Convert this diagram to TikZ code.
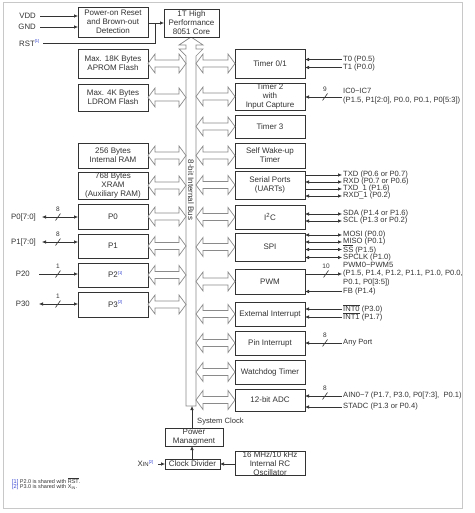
\documentclass[tikz,border=0pt]{standalone}
\usepackage{fontspec}
\setmainfont{Liberation Sans}
\usetikzlibrary{arrows.meta}
\definecolor{ink}{HTML}{333333}
\definecolor{fatc}{HTML}{8A8A8A}
\definecolor{framec}{HTML}{C8C8C8}
\definecolor{note}{HTML}{3040D0}
\newcommand\ovl[1]{$\overline{\mbox{#1}}$}
\newcommand\fnm[1]{\textcolor{note}{\fontsize{4}{4}\selectfont[#1]}}
\newcommand\bx[6]{\node[box, minimum width={(#4-#2)*1pt}, minimum height={(#5-#3)*1pt}] (#1) at ({(#2+#4)/2},{(#3+#5)/2}) {#6};}
\newcommand\fath[3]{\draw[fat] (#1,#3) -- (#1+7,#3-9.5) -- (#1+7,#3-3.5) -- (#2-7,#3-3.5) -- (#2-7,#3-9.5) -- (#2,#3) -- (#2-7,#3+9.5) -- (#2-7,#3+3.5) -- (#1+7,#3+3.5) -- (#1+7,#3+9.5) -- cycle;}
\newcommand\tick[4]{\draw[wire] (#2-2.5,#3+3.5) -- (#2+2.5,#3-3.5); \node[num] (#1) at (#2,#3-7.5) {#4};}
\begin{document}
\begin{tikzpicture}[x=1pt,y=-1pt, font=\fontsize{8}{9}\selectfont, text=ink,
 box/.style={draw=ink, line width=0.9pt, inner sep=0pt, outer sep=0pt, align=center, fill=white},
 sig/.style={inner sep=1pt, anchor=west, font=\fontsize{7.6}{8}\selectfont},
 lsig/.style={inner sep=1pt, anchor=east, font=\fontsize{7.8}{8}\selectfont},
 wire/.style={draw=ink, line width=0.6pt},
 inarr/.style={wire, -{Latex[length=4pt,width=3.5pt]}},
 biarr/.style={wire, {Latex[length=4pt,width=3.5pt]}-{Latex[length=4pt,width=3.5pt]}},
 fat/.style={draw=fatc, line width=0.7pt, fill=white, line join=miter},
 num/.style={font=\fontsize{6.5}{7}\selectfont, inner sep=0pt}]
\useasboundingbox (0,0) rectangle (474,513);
\draw[framec, line width=1pt] (3,3) rectangle (462,508);

% bus with arrow to core
\draw[fat] (191,37) -- (203,45) -- (196,45) -- (196,49) -- (203,49) -- (196,56) -- (196,406) -- (186,406) -- (186,56) -- (179,49) -- (186,49) -- (186,45) -- (179,45) -- cycle;
\node[rotate=-90, inner sep=0pt] (buslbl) at (191,190) {8-bit Internal Bus};
\coordinate (busbot) at (192,406);

% left boxes
\bx{por}{78}{7}{148}{37}{Power-on Reset\\and Brown-out\\Detection}
\bx{core}{164}{9}{219}{37}{1T High\\Performance\\8051 Core}
\bx{apr}{78}{49}{148}{78}{Max. 18K Bytes\\APROM Flash}
\bx{ldr}{78}{84}{148}{111}{Max. 4K Bytes\\LDROM Flash}
\bx{ram}{78}{143}{148}{168}{256 Bytes\\Internal RAM}
\bx{xram}{78}{172}{148}{199}{768 Bytes\\XRAM\\(Auxiliary RAM)}
\bx{p0}{78}{204}{148}{229}{P0}
\bx{p1}{78}{234}{148}{258}{P1}
\bx{p2}{78}{263}{148}{287}{P2\rlap{\raisebox{3pt}{\fnm{1}}}}
\bx{p3}{78}{292}{148}{317}{P3\rlap{\raisebox{4pt}{\fnm{2}}}}

% right boxes
\bx{t01}{235}{49}{305}{78}{Timer 0/1}
\bx{t2}{235}{83}{305}{110}{Timer 2\\with\\Input Capture}
\bx{t3}{235}{115}{305}{138}{Timer 3}
\bx{swt}{235}{143}{305}{168}{Self Wake-up\\Timer}
\bx{uart}{235}{171}{305}{199}{Serial Ports\\(UARTs)}
\bx{i2c}{235}{205}{305}{229}{I\textsuperscript{2}C}
\bx{spi}{235}{233}{305}{261}{SPI}
\bx{pwm}{235}{269}{305}{294}{PWM}
\bx{exi}{235}{302}{305}{326}{External Interrupt}
\bx{pin}{235}{331}{305}{355}{Pin Interrupt}
\bx{wdt}{235}{360}{305}{384}{Watchdog Timer}
\bx{adc}{235}{389}{305}{411}{12-bit ADC}
\bx{osc}{235}{452}{305}{475}{16 MHz/10 kHz\\Internal RC\\Oscillator}

% bottom boxes
\bx{pm}{165}{428}{223}{446}{Power\\Managment}
\bx{cd}{165}{459}{220}{469}{Clock Divider}

% fat arrows left
\fath{148}{186}{63.5}
\fath{148}{186}{97.5}
\fath{148}{186}{155.5}
\fath{148}{186}{185.5}
\fath{148}{186}{216.5}
\fath{148}{186}{246}
\fath{148}{186}{275}
\fath{148}{186}{304.5}
% fat arrows right
\fath{196}{235}{63.5}
\fath{196}{235}{96.5}
\fath{196}{235}{126.5}
\fath{196}{235}{155.5}
\fath{196}{235}{185}
\fath{196}{235}{217}
\fath{196}{235}{247}
\fath{196}{235}{281.5}
\fath{196}{235}{314}
\fath{196}{235}{343}
\fath{196}{235}{372}
\fath{196}{235}{400}

% top-left signals
\node[lsig] (vdd) at (37,16) {VDD};
\node[lsig] (gnd) at (37,27) {GND};
\node[lsig] (rst) at (36,43) {RST\rlap{\raisebox{4pt}{\fnm{1}}}};
\draw[inarr] ([xshift=3pt]vdd.east) -- (vdd.east -| por.west);
\draw[inarr] ([xshift=3pt]gnd.east) -- (gnd.east -| por.west);
\coordinate (rj) at (155,23);
\draw[wire] ([xshift=7pt]rst.east) -| (rj);
\draw[inarr] (por.east |- rj) -- (rj -| core.west);

% left port signals
\node[lsig] (p0s) at (37,217) {P0[7:0]};
\draw[biarr] ([xshift=5pt]p0s.east) -- (p0s.east -| p0.west);
\tick{n8a}{58}{217}{8}
\node[lsig] (p1s) at (37,242) {P1[7:0]};
\draw[biarr] ([xshift=5pt]p1s.east) -- (p1s.east -| p1.west);
\tick{n8b}{58}{242}{8}
\node[lsig] (p20) at (31,274) {P20};
\draw[inarr] ([xshift=8pt]p20.east) -- (p20.east -| p2.west);
\tick{n1a}{58}{274}{1}
\node[lsig] (p30) at (31,304) {P30};
\draw[biarr] ([xshift=8pt]p30.east) -- (p30.east -| p3.west);
\tick{n1b}{58}{304}{1}

% right signals
\node[sig] (t0) at (342,59.5) {T0 (P0.5)};
\node[sig] (t1) at (342,67.5) {T1 (P0.0)};
\draw[inarr] (t0.west) -- (t0.west -| t01.east);
\draw[inarr] (t1.west) -- (t1.west -| t01.east);

\node[sig] (ic) at (342,91) {IC0\textasciitilde IC7};
\node[sig] (icp) at (342,101) {(P1.5, P1[2:0], P0.0, P0.1, P0[5:3])};
\coordinate (icj) at (342,97);
\draw[inarr] (icj) -- (icj -| t2.east);
\tick{n9}{325}{97}{9}

\node[sig] (txd) at (342,175) {TXD (P0.6 or P0.7)};
\node[sig] (rxd) at (342,182) {RXD (P0.7 or P0.6)};
\node[sig] (txd1) at (342,189) {TXD\_1 (P1.6)};
\node[sig] (rxd1) at (342,196) {RXD\_1 (P0.2)};
\draw[inarr] (txd.west -| uart.east) -- (txd.west);
\draw[biarr] (rxd.west -| uart.east) -- (rxd.west);
\draw[inarr] (txd1.west -| uart.east) -- (txd1.west);
\draw[biarr] (rxd1.west -| uart.east) -- (rxd1.west);

\node[sig] (sda) at (342,214) {SDA (P1.4 or P1.6)};
\node[sig] (scl) at (342,221) {SCL (P1.3 or P0.2)};
\draw[biarr] (sda.west -| i2c.east) -- (sda.west);
\draw[biarr] (scl.west -| i2c.east) -- (scl.west);

\node[sig] (mosi) at (342,235) {MOSI (P0.0)};
\node[sig] (miso) at (342,242) {MISO (P0.1)};
\node[sig] (ss) at (342,249.5) {\ovl{SS} (P1.5)};
\node[sig] (spck) at (342,257.5) {SPCLK (P1.0)};
\draw[biarr] (mosi.west -| spi.east) -- (mosi.west);
\draw[biarr] (miso.west -| spi.east) -- (miso.west);
\draw[biarr] (ss.west -| spi.east) -- (ss.west);
\draw[biarr] (spck.west -| spi.east) -- (spck.west);

\node[sig] (pwmh) at (342,264.5) {PWM0\textasciitilde PWM5};
\node[sig] (pwm1) at (342,274) {(P1.5, P1.4, P1.2, P1.1, P1.0, P0.0,};
\node[sig] (pwm2) at (342,283) {P0.1, P0[3:5])};
\node[sig] (fb) at (342,291.5) {FB (P1.4)};
\draw[inarr] (pwm1.west -| pwm.east) -- (pwm1.west);
\tick{n10}{326}{274}{10}
\draw[inarr] (fb.west) -- (fb.west -| pwm.east);

\node[sig] (int0) at (342,309) {\ovl{INT0} (P3.0)};
\node[sig] (int1) at (342,317) {\ovl{INT1} (P1.7)};
\draw[inarr] (int0.west) -- (int0.west -| exi.east);
\draw[inarr] (int1.west) -- (int1.west -| exi.east);

\node[sig] (anyp) at (342,343) {Any Port};
\draw[inarr] (anyp.west) -- (anyp.west -| pin.east);
\tick{n8c}{325}{343}{8}

\node[sig] (ain) at (342,396) {AIN0\textasciitilde 7 (P1.7, P3.0, P0[7:3],\ \ P0.1)};
\node[sig] (stadc) at (342,407) {STADC (P1.3 or P0.4)};
\draw[inarr] (ain.west) -- (ain.west -| adc.east);
\draw[inarr] (stadc.west) -- (stadc.west -| adc.east);
\tick{n8d}{325}{396}{8}

% clock tree
\node[sig, anchor=west, inner sep=0pt] (sysclk) at (197,422) {System Clock};
\draw[inarr] (busbot |- pm.north) -- (busbot);
\draw[inarr] (busbot |- cd.north) -- (busbot |- pm.south);
\node[lsig] (xin) at (150,464) {X{\fontsize{6}{6}\selectfont IN}\rlap{\raisebox{3pt}{\fnm{2}}}};
\draw[inarr] ([xshift=8pt]xin.east) -- (xin.east -| cd.west);
\draw[inarr] (osc.west |- cd.east) -- (cd.east);

% footnotes
\node[anchor=west, inner sep=0pt, font=\fontsize{5.5}{6}\selectfont] (fn1) at (12,481) {\textcolor{note}{[1]} P2.0 is shared with \ovl{RST}.};
\node[anchor=west, inner sep=0pt, font=\fontsize{5.5}{6}\selectfont] (fn2) at (12,487.5) {\textcolor{note}{[2]} P3.0 is shared with X\textsubscript{IN}.};
\end{tikzpicture}
\end{document}
